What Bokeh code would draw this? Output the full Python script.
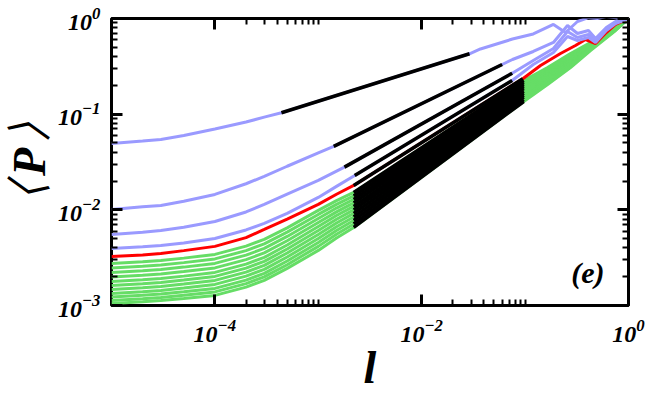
import math
from bokeh.plotting import figure
from bokeh.models import Label, FixedTicker, LogAxis, CustomJSTickFormatter
from bokeh.embed import file_html
from bokeh.resources import INLINE

# ---------------- data ----------------
l_blue1 = [1e-5, 2e-5, 3e-5, 5e-5, 1e-4, 2e-4, 3e-4, 4.4e-4, 0.029, 0.037, 0.0755, 0.12, 0.188, 0.246, 0.321, 0.41, 0.50, 0.61, 0.75, 1.0]
P_blue1 = [0.0494, 0.05235, 0.0544, 0.05975, 0.0700, 0.0827, 0.0931, 0.1034, 0.428, 0.480, 0.610, 0.689, 0.866, 0.714, 0.930, 1.02, 1.0, 1.05, 1.02, 1.0]

l_blue2 = [1e-5, 2e-5, 3e-5, 5e-5, 1e-4, 2e-4, 3e-4, 5e-4, 1e-3, 0.00141, 0.060, 0.0755, 0.12, 0.188, 0.257, 0.321, 0.41, 0.48, 0.61, 0.75, 1.0]
P_blue2 = [0.0101, 0.010774, 0.01112, 0.0123, 0.01449, 0.01874, 0.02234, 0.02855, 0.0393, 0.0460, 0.3306, 0.3727, 0.452, 0.5613, 0.845, 0.697, 0.749, 0.618, 0.805, 0.930, 1.0]

l_blue3 = [1e-5, 2e-5, 3e-5, 5e-5, 1e-4, 2e-4, 3e-4, 5e-4, 1e-3, 0.00179, 0.075, 0.12, 0.188, 0.257, 0.321, 0.41, 0.48, 0.61, 0.75, 1.0]
P_blue3 = [0.00553, 0.005831, 0.00609, 0.006579, 0.00756, 0.009502, 0.01139, 0.014626, 0.0203, 0.02794, 0.2682, 0.364, 0.486, 0.7314, 0.633, 0.681, 0.589, 0.767, 0.908, 1.0]

l_blue4 = [1e-5, 2e-5, 3e-5, 5e-5, 1e-4, 2e-4, 3e-4, 5e-4, 1e-3, 1.5e-3, 0.00225, 0.075, 0.12, 0.188, 0.257, 0.321, 0.41, 0.48, 0.61, 0.75, 1.0]
P_blue4 = [0.00395, 0.004116, 0.00425, 0.00451, 0.00502, 0.006165, 0.00721, 0.009192, 0.01348, 0.0176, 0.02288, 0.2250, 0.3306, 0.441, 0.6485, 0.589, 0.633, 0.5613, 0.749, 0.887, 1.0]

l_red = [1e-5, 2e-5, 3e-5, 5e-5, 1e-4, 2e-4, 3e-4, 5e-4, 1e-3, 1.5e-3, 0.0022, 0.095, 0.141, 0.220, 0.307, 0.384, 0.48, 0.61, 0.75, 1.0]
P_red = [0.00326, 0.003371, 0.0035, 0.003747, 0.00415, 0.005123, 0.00624, 0.008013, 0.01139, 0.014555, 0.01799, 0.2344, 0.3228, 0.4308, 0.5223, 0.6033, 0.5479, 0.714, 0.866, 1.0]

l_green = [1e-5, 2e-5, 3e-5, 5e-5, 1e-4, 2e-4, 3e-4, 5e-4, 1e-3, 1.5e-3, 0.0022, 0.097, 0.165, 0.275, 0.429, 0.75, 1.0]
P_green = [
    [0.002754, 0.002869, 0.00296, 0.003128, 0.00342, 0.00417, 0.004907, 0.006485, 0.00986, 0.01248, 0.0152, 0.225, 0.3076, 0.4308, 0.5613, 0.825, 1.0],
    [0.002471, 0.002574, 0.002656, 0.002807, 0.003069, 0.003742, 0.004403, 0.005848, 0.008952, 0.01141, 0.01397, 0.2144, 0.2967, 0.4155, 0.5479, 0.815, 1.0],
    [0.002218, 0.00231, 0.002384, 0.002519, 0.002754, 0.003358, 0.00395, 0.005272, 0.008128, 0.01044, 0.01284, 0.2043, 0.2827, 0.4008, 0.5413, 0.805, 1.0],
    [0.00199, 0.002073, 0.002139, 0.002261, 0.002471, 0.003014, 0.003544, 0.004754, 0.007383, 0.00953, 0.01181, 0.1948, 0.2727, 0.3913, 0.5284, 0.796, 1.0],
    [0.001786, 0.00186, 0.00192, 0.002028, 0.002218, 0.002705, 0.003181, 0.004288, 0.006706, 0.008717, 0.01085, 0.1856, 0.26, 0.3775, 0.5223, 0.786, 1.0],
    [0.001622, 0.00169, 0.001743, 0.001843, 0.002014, 0.002457, 0.002889, 0.003894, 0.00609, 0.007976, 0.00998, 0.1748, 0.2507, 0.364, 0.5097, 0.786, 1.0],
    [0.001473, 0.001535, 0.001583, 0.001674, 0.001829, 0.002231, 0.002624, 0.003537, 0.00553, 0.007279, 0.009172, 0.1665, 0.2418, 0.351, 0.4977, 0.777, 1.0],
    [0.001338, 0.001394, 0.001438, 0.00152, 0.001661, 0.002026, 0.002384, 0.003212, 0.00502, 0.006659, 0.008428, 0.1587, 0.2305, 0.3386, 0.4916, 0.767, 1.0],
    [0.00123, 0.001281, 0.001322, 0.00139, 0.001509, 0.001841, 0.002165, 0.002917, 0.004564, 0.006092, 0.007746, 0.1512, 0.2223, 0.3306, 0.48, 0.767, 1.0],
    [0.001131, 0.001178, 0.001215, 0.001278, 0.001387, 0.001692, 0.00199, 0.002669, 0.00415, 0.005559, 0.007123, 0.1424, 0.2118, 0.3189, 0.4743, 0.758, 1.0],
    [0.001052, 0.001096, 0.001131, 0.001183, 0.001275, 0.001555, 0.001829, 0.002442, 0.003765, 0.005085, 0.006547, 0.1357, 0.2043, 0.3076, 0.463, 0.749, 1.0],
]

# power-law fit segments (black)
fit_l_blue = [[4.4e-4, 0.029], [0.00141, 0.060], [0.00179, 0.075], [0.00225, 0.075]]
fit_P_blue = [[0.1034, 0.428], [0.0460, 0.3306], [0.02794, 0.2682], [0.02288, 0.2250]]
fit_l_red = [0.0022, 0.095]
fit_P_red = [0.01799, 0.2344]
fit_l_green = [0.0022, 0.097]
fit_P_green = [[row[10], row[11]] for row in P_green]

x_tick_values = [1e-4, 1e-2, 1.0]
y_tick_values = [1e-3, 1e-2, 1e-1, 1.0]

# ---------------- styling ----------------
BLUE = "#9a9aff"
GREEN = "#66dd66"
RED = "#ff0000"
SERIF = "Liberation Serif"

p = figure(x_axis_type="log", y_axis_type="log",
           x_range=(1e-5, 1.0), y_range=(1e-3, 1.0),
           frame_width=517, frame_height=287,
           min_border_left=111, min_border_right=19,
           min_border_top=18, min_border_bottom=90,
           output_backend="svg", toolbar_location=None)
p.grid.visible = False
p.outline_line_color = "black"
p.outline_line_width = 3
p.background_fill_color = "white"
p.border_fill_color = "white"

x_minor = [k * 1e-4 for k in range(2, 11)] + [k * 1e-2 for k in range(2, 11)]
y_minor = [k * 10.0 ** e for e in (-3, -2, -1) for k in range(2, 10)]

bottom_axis = p.below[0]
left_axis = p.left[0]
top_axis = LogAxis()
right_axis = LogAxis()
p.add_layout(top_axis, "above")
p.add_layout(right_axis, "right")

blank = CustomJSTickFormatter(code="return ''")
for ax, tk in [(bottom_axis, "x"), (top_axis, "x"), (left_axis, "y"), (right_axis, "y")]:
    if tk == "x":
        ax.ticker = FixedTicker(ticks=x_tick_values, minor_ticks=x_minor)
    else:
        ax.ticker = FixedTicker(ticks=y_tick_values, minor_ticks=y_minor)
    ax.axis_line_color = None
    ax.major_tick_in = 11
    ax.major_tick_out = 0
    ax.minor_tick_in = 6
    ax.minor_tick_out = 0
    ax.major_tick_line_width = 3
    ax.minor_tick_line_width = 2
    ax.major_tick_line_color = "black"
    ax.minor_tick_line_color = "black"

for ax in (top_axis, right_axis):
    ax.formatter = blank
    ax.major_label_text_font_size = "2px"
    ax.major_label_standoff = 0

for ax in (bottom_axis, left_axis):
    ax.major_label_text_font = SERIF
    ax.major_label_text_font_style = "bold italic"
    ax.major_label_text_font_size = "24px"
    ax.major_label_text_color = "black"
    ax.axis_label_text_font = SERIF
    ax.axis_label_text_font_style = "bold italic"
    ax.axis_label_text_color = "black"

bottom_axis.major_label_standoff = 14
bottom_axis.axis_label = "l"
bottom_axis.axis_label_text_font_size = "46px"
bottom_axis.axis_label_standoff = -3
left_axis.major_label_standoff = 11
left_axis.axis_label = "\u3008\u200aP\u200a\u3009"
left_axis.axis_label_text_font_size = "46px"
left_axis.axis_label_text_line_height = 1.0
left_axis.axis_label_standoff = 0

# curves
for row in P_green:
    p.line(l_green, row, line_color=GREEN, line_width=3)
p.line(l_red, P_red, line_color=RED, line_width=3)
for lx, py in [(l_blue4, P_blue4), (l_blue3, P_blue3), (l_blue2, P_blue2), (l_blue1, P_blue1)]:
    p.line(lx, py, line_color=BLUE, line_width=3)

# fit segments
for fp in fit_P_green:
    p.line(fit_l_green, fp, line_color="black", line_width=3.5)
p.line(fit_l_red, fit_P_red, line_color="black", line_width=3.5)
for fl, fp in zip(fit_l_blue, fit_P_blue):
    p.line(fl, fp, line_color="black", line_width=3.5)

# panel tag
p.add_layout(Label(x=1.0, y=1e-3, x_units="data", y_units="data", text="(e)",
                   text_font=SERIF, text_font_style="bold italic", text_font_size="30px",
                   text_align="right", text_baseline="alphabetic",
                   x_offset=-24, y_offset=33, text_color="black"))

open("out.html", "w").write(file_html(p, INLINE))
